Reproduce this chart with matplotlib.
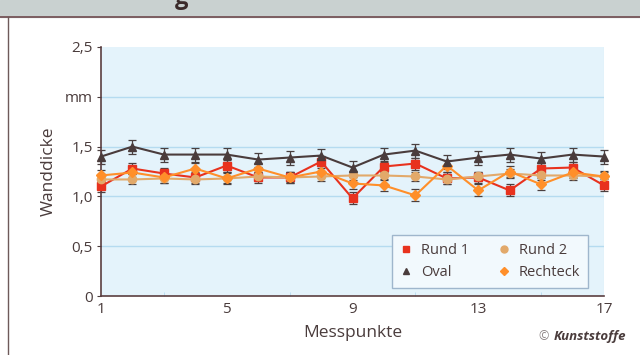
import numpy as np
import matplotlib
import matplotlib.pyplot as plt
from matplotlib.lines import Line2D

matplotlib.rc('font', family='Open Sans')

## Messwerte (Wanddicke in mm)
messpunkte = np.arange(1, 18)
rund1 = [1.10, 1.28, 1.23, 1.19, 1.31, 1.19, 1.19, 1.35, 0.98,
         1.30, 1.33, 1.18, 1.19, 1.06, 1.28, 1.29, 1.11]
rund2 = [1.17, 1.17, 1.18, 1.17, 1.18, 1.20, 1.19, 1.20, 1.21,
         1.21, 1.20, 1.17, 1.20, 1.23, 1.21, 1.21, 1.20]
oval = [1.40, 1.50, 1.42, 1.42, 1.42, 1.37, 1.39, 1.41, 1.29,
        1.42, 1.46, 1.35, 1.39, 1.42, 1.38, 1.42, 1.40]
rechteck = [1.21, 1.24, 1.19, 1.28, 1.18, 1.28, 1.19, 1.25, 1.13,
            1.11, 1.01, 1.31, 1.06, 1.25, 1.12, 1.24, 1.20]
err_rund1 = [0.06]*17
err_rund2 = [0.05]*17
err_oval = [0.07]*17
err_rechteck = [0.06]*17

y_ticks = [0, 0.5, 1.0, 1.5, 2.0, 2.5]
y_ticklabels = ['0', '0,5', '1,0', '1,5', 'mm', '2,5']
x_ticks = [1, 5, 9, 13, 17]

txt = '#4a3c3c'
fig = plt.figure(figsize=(6.4, 3.55), dpi=100)

# Kopfzeile und Rahmen
fig.patches.append(plt.Rectangle((0, 1 - 17/355), 1, 17/355, transform=fig.transFigure,
                                 color='#c9d1d0', zorder=0))
fig.add_artist(Line2D([0, 1], [1 - 17/355]*2, color='#6e4a4e', lw=1.2))
fig.add_artist(Line2D([8/640]*2, [0, 1 - 17/355], color='#6e5a5a', lw=1.0))
fig.text(0.283, 1.005, 'g', fontsize=17, fontweight='bold', color='#3a2a2a',
         ha='center', va='center')

ax = fig.add_axes([101/640, 59/355, 503/640, 249/355])
ax.set_facecolor('#e4f3fb')
for y in [0.5, 1.0, 1.5, 2.0]:
    ax.axhline(y, color='#b5dbf0', lw=1.0, zorder=1)

series = [
    (rund1, err_rund1, '#e8321e', 's', 5.5, 'Rund 1'),
    (rund2, err_rund2, '#e2a96a', 'o', 6, 'Rund 2'),
    (rechteck, err_rechteck, '#ff8f2a', 'D', 5, 'Rechteck'),
    (oval, err_oval, '#4a3c3c', '^', 6, 'Oval'),
]
for vals, err, col, mk, ms, lab in series:
    ax.errorbar(messpunkte, vals, yerr=err, fmt='none', ecolor='#4a4040',
                elinewidth=0.9, capsize=3, capthick=0.9, zorder=2, clip_on=False)
    ax.plot(messpunkte, vals, color=col, lw=1.5, marker=mk, ms=ms,
            mec=col, zorder=3, clip_on=False, label=lab)

ax.set_xlim(1, 17)
ax.set_ylim(0, 2.5)
ax.set_xticks(x_ticks)
ax.set_xticks(np.arange(3, 17, 2), minor=True)
ax.set_yticks(y_ticks)
ax.set_yticklabels(y_ticklabels)
ax.tick_params(axis='x', which='major', length=0, labelsize=11, colors=txt, pad=4)
ax.tick_params(axis='x', which='minor', direction='in', length=3, color='#b5dbf0')
ax.tick_params(axis='y', length=3, labelsize=11, colors=txt, pad=3)
for s in ['top', 'right']:
    ax.spines[s].set_visible(False)
for s in ['left', 'bottom']:
    ax.spines[s].set_color('#5a3e40')
    ax.spines[s].set_linewidth(1.2)
ax.axvline(17, color='#c6e3f4', lw=0.8, zorder=1)

ax.set_xlabel('Messpunkte', fontsize=12.5, color=txt, labelpad=6)
ax.set_ylabel('Wanddicke', fontsize=12.5, color=txt, labelpad=6)

leg_handles = [Line2D([], [], ls='none', marker=m, color=c, ms=s)
               for m, c, s in [('s', '#e8321e', 5), ('^', '#4a3c3c', 5),
                               ('o', '#e2a96a', 5), ('D', '#ff8f2a', 4.5)]]
leg = ax.legend(leg_handles, ['Rund 1', 'Oval', 'Rund 2', 'Rechteck'], ncol=2,
                loc='lower right', bbox_to_anchor=(0.968, 0.032), borderaxespad=0,
                fontsize=10.5, frameon=True, fancybox=False, handlelength=0.8,
                handletextpad=0.6, columnspacing=2.0, labelspacing=0.45,
                borderpad=0.55, labelcolor=txt)
leg.get_frame().set_facecolor('#f2f9fd')
leg.get_frame().set_edgecolor('#9fb6cc')
leg.get_frame().set_alpha(1)

fig.text(0.857, 0.035, '©', fontsize=9, color='#8a8080', ha='right', va='bottom')
fig.text(0.978, 0.035, 'Kunststoffe', fontsize=9.5, color=txt, fontweight='bold',
         fontstyle='italic', ha='right', va='bottom')

fig.savefig('out.png', dpi=100)
